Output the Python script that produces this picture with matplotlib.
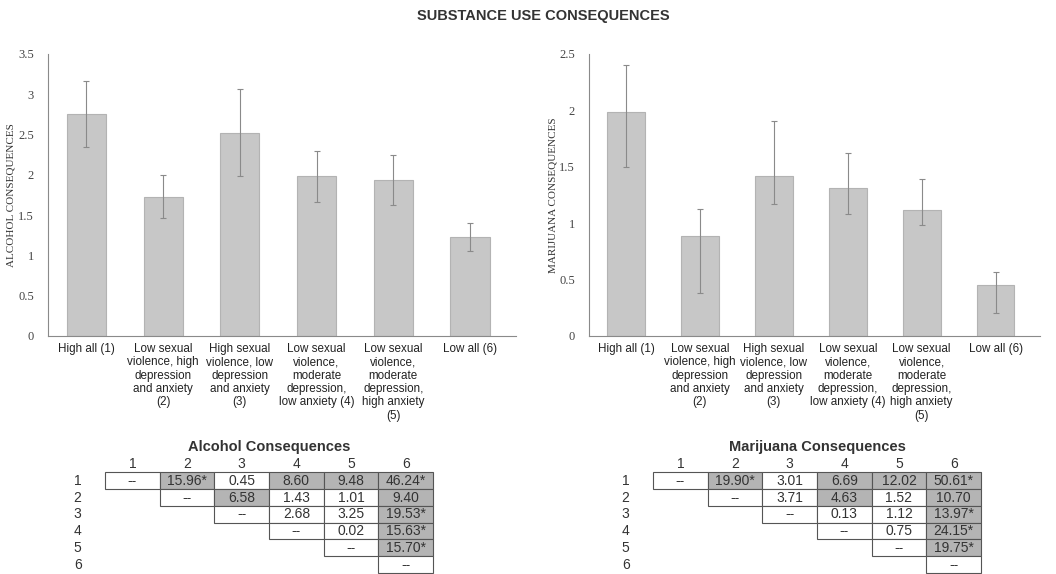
import numpy as np
import matplotlib
matplotlib.use("Agg")
import matplotlib.pyplot as plt
from matplotlib.patches import Rectangle

# Group labels (latent profiles)
groups = ["High all (1)",
          "Low sexual\nviolence, high\ndepression\nand anxiety\n(2)",
          "High sexual\nviolence, low\ndepression\nand anxiety\n(3)",
          "Low sexual\nviolence,\nmoderate\ndepression,\nlow anxiety (4)",
          "Low sexual\nviolence,\nmoderate\ndepression,\nhigh anxiety\n(5)",
          "Low all (6)"]

# Mean consequences and error bar ends
alc_mean = [2.75, 1.73, 2.52, 1.98, 1.94, 1.23]
alc_lo = [2.34, 1.46, 1.98, 1.66, 1.63, 1.06]
alc_hi = [3.16, 2.00, 3.06, 2.30, 2.25, 1.40]

mj_mean = [1.99, 0.89, 1.42, 1.31, 1.12, 0.45]
mj_lo = [1.50, 0.38, 1.17, 1.08, 0.98, 0.20]
mj_hi = [2.40, 1.13, 1.91, 1.62, 1.39, 0.57]

# Pairwise comparison tables (upper triangle), shaded flags
alc_table = [["--", "15.96*", "0.45", "8.60", "9.48", "46.24*"],
             ["--", "6.58", "1.43", "1.01", "9.40"],
             ["--", "2.68", "3.25", "19.53*"],
             ["--", "0.02", "15.63*"],
             ["--", "15.70*"],
             ["--"]]
alc_shade = [[0, 1, 0, 1, 1, 1],
             [0, 1, 0, 0, 1],
             [0, 0, 0, 1],
             [0, 0, 1],
             [0, 1],
             [0]]

mj_table = [["--", "19.90*", "3.01", "6.69", "12.02", "50.61*"],
            ["--", "3.71", "4.63", "1.52", "10.70"],
            ["--", "0.13", "1.12", "13.97*"],
            ["--", "0.75", "24.15*"],
            ["--", "19.75*"],
            ["--"]]
mj_shade = [[0, 1, 0, 1, 1, 1],
            [0, 0, 1, 0, 1],
            [0, 0, 0, 1],
            [0, 0, 1],
            [0, 1],
            [0]]

W, H = 1056, 574
fig = plt.figure(figsize=(W / 100, H / 100), dpi=100)

def px_axes(x0, y0, x1, y1):
    # axes from pixel box (top-left origin)
    return fig.add_axes([x0 / W, (H - y1) / H, (x1 - x0) / W, (y1 - y0) / H])

def bar_panel(ax, mean, lo, hi, top, ylabel):
    x = np.arange(len(mean))
    mean = np.array(mean)
    err = [mean - np.array(lo), np.array(hi) - mean]
    ax.bar(x, mean, width=0.51, color="#c7c7c7", edgecolor="#b3b3b3", linewidth=0.8)
    ax.errorbar(x, mean, yerr=err, fmt="none", ecolor="#8a8a8a", elinewidth=0.8,
                capsize=2, capthick=0.8)
    ax.set_xlim(-0.5, 5.6)
    ax.set_ylim(0, top)
    ax.set_yticks(np.arange(0, top + 0.01, 0.5))
    ax.set_yticklabels([f"{v:g}" for v in np.arange(0, top + 0.01, 0.5)],
                       family="Liberation Serif", fontsize=9, color="#444444")
    ax.set_xticks(x)
    ax.set_xticklabels(groups, family="Liberation Sans", fontsize=8.4, color="#222222",
                       linespacing=1.15, va="top")
    ax.tick_params(axis="both", length=0)
    ax.tick_params(axis="y", pad=10)
    ax.tick_params(axis="x", pad=5)
    for s in ["top", "right"]:
        ax.spines[s].set_visible(False)
    ax.spines["left"].set_color("#8a8a8a")
    ax.spines["bottom"].set_color("#8a8a8a")
    ax.set_ylabel(ylabel, family="Liberation Serif", fontsize=8, color="#333333")
    ax.yaxis.set_label_coords(-0.07, 0.5)

ax1 = px_axes(48, 54, 516, 336)
bar_panel(ax1, alc_mean, alc_lo, alc_hi, 3.5, "ALCOHOL CONSEQUENCES")
ax2 = px_axes(589, 54, 1040, 336)
bar_panel(ax2, mj_mean, mj_lo, mj_hi, 2.5, "MARIJUANA CONSEQUENCES")

fig.text(543 / W, 1 - 16 / H, "SUBSTANCE USE CONSEQUENCES", ha="center", va="center",
         family="Liberation Sans", fontsize=10.5, fontweight="bold", color="#333333")

def table_panel(ax, rows, shade, title):
    n = len(rows)
    ax.set_xlim(0, n)
    ax.set_ylim(n, 0)
    ax.axis("off")
    for r, (vals, flags) in enumerate(zip(rows, shade)):
        for k, (v, f) in enumerate(zip(vals, flags)):
            c = r + k
            ax.add_patch(Rectangle((c, r), 1, 1, facecolor="#b4b4b4" if f else "white",
                                   edgecolor="#555555", linewidth=0.8, clip_on=False))
            ax.text(c + 0.5, r + 0.52, v, ha="center", va="center", fontsize=10,
                    family="Liberation Sans", color="#333333")
        ax.text(-0.5, r + 0.52, str(r + 1), ha="center", va="center", fontsize=10,
                family="Liberation Sans", color="#333333")
    for c in range(n):
        ax.text(c + 0.5, -0.5, str(c + 1), ha="center", va="center", fontsize=10,
                family="Liberation Sans", color="#333333")
    ax.text(n / 2, -1.5, title, ha="center", va="center", fontsize=10.5,
            fontweight="bold", family="Liberation Sans", color="#333333")

t1 = px_axes(105, 472, 433, 573)
table_panel(t1, alc_table, alc_shade, "Alcohol Consequences")
t2 = px_axes(653, 472, 981, 573)
table_panel(t2, mj_table, mj_shade, "Marijuana Consequences")

fig.savefig("out.png", dpi=100)
